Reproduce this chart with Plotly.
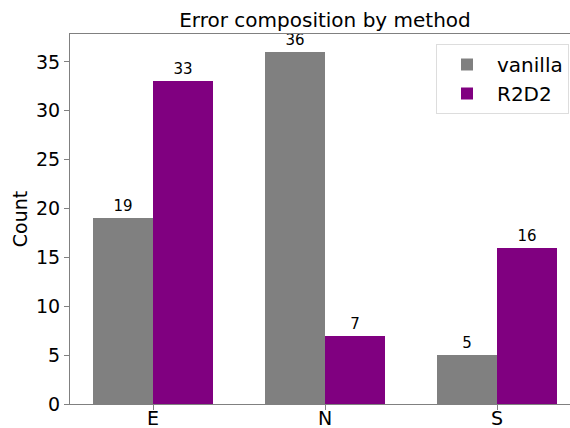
import plotly.graph_objects as go

categories = ["E", "N", "S"]
vanilla = [19, 36, 5]
r2d2 = [33, 7, 16]

W, H = 570, 428
L, R, T, B = 70, 0, 34, 24

fig = go.Figure()
fig.add_trace(go.Bar(x=[0, 1, 2], y=vanilla, name="vanilla", marker_color="#808080",
                     marker_line_width=0,
                     width=0.35, offset=-0.35, text=[str(v) for v in vanilla],
                     textposition="outside", textfont=dict(size=15, color="black"),
                     cliponaxis=False))
fig.add_trace(go.Bar(x=[0, 1, 2], y=r2d2, name="R2D2", marker_color="#800080",
                     marker_line_width=0,
                     width=0.35, offset=0.0, text=[str(v) for v in r2d2],
                     textposition="outside", textfont=dict(size=15, color="black"),
                     cliponaxis=False))

fig.update_layout(
    width=W, height=H,
    margin=dict(l=L, r=R, t=T, b=B, autoexpand=False),
    paper_bgcolor="white", plot_bgcolor="white",
    font=dict(family="DejaVu Sans", color="black"),
    title=dict(text="Error composition by method", x=325 / W, xanchor="center",
               y=1 - 20 / H, yanchor="middle", font=dict(size=20)),
    showlegend=True,
    legend=dict(x=0.998, xanchor="right", y=1 - 10 / (H - T - B), yanchor="top",
                bgcolor="white", bordercolor="#dddddd", borderwidth=1,
                font=dict(size=20), itemwidth=50),
    bargap=0,
    xaxis=dict(range=[-0.483, 2.424], tickvals=[0, 1, 2], ticktext=categories,
               showline=True, linecolor="#808080", linewidth=1, mirror=True,
               ticks="outside", ticklen=5, tickcolor="#808080", automargin=False,
               ticklabelstandoff=-8,
               tickfont=dict(size=19), showgrid=False, zeroline=False),
    yaxis=dict(range=[0, 37.85], tickvals=[0, 5, 10, 15, 20, 25, 30, 35],
               showline=True, linecolor="#808080", linewidth=1, automargin=False,
               ticks="outside", ticklen=5, tickcolor="#808080",
               tickfont=dict(size=19), showgrid=False, zeroline=False,
               title=dict(text="Count", font=dict(size=19), standoff=3)),
)
fig.write_html("out.html", config={"displayModeBar": False},
               post_script="document.body.style.margin='0';document.body.style.overflow='hidden';")
